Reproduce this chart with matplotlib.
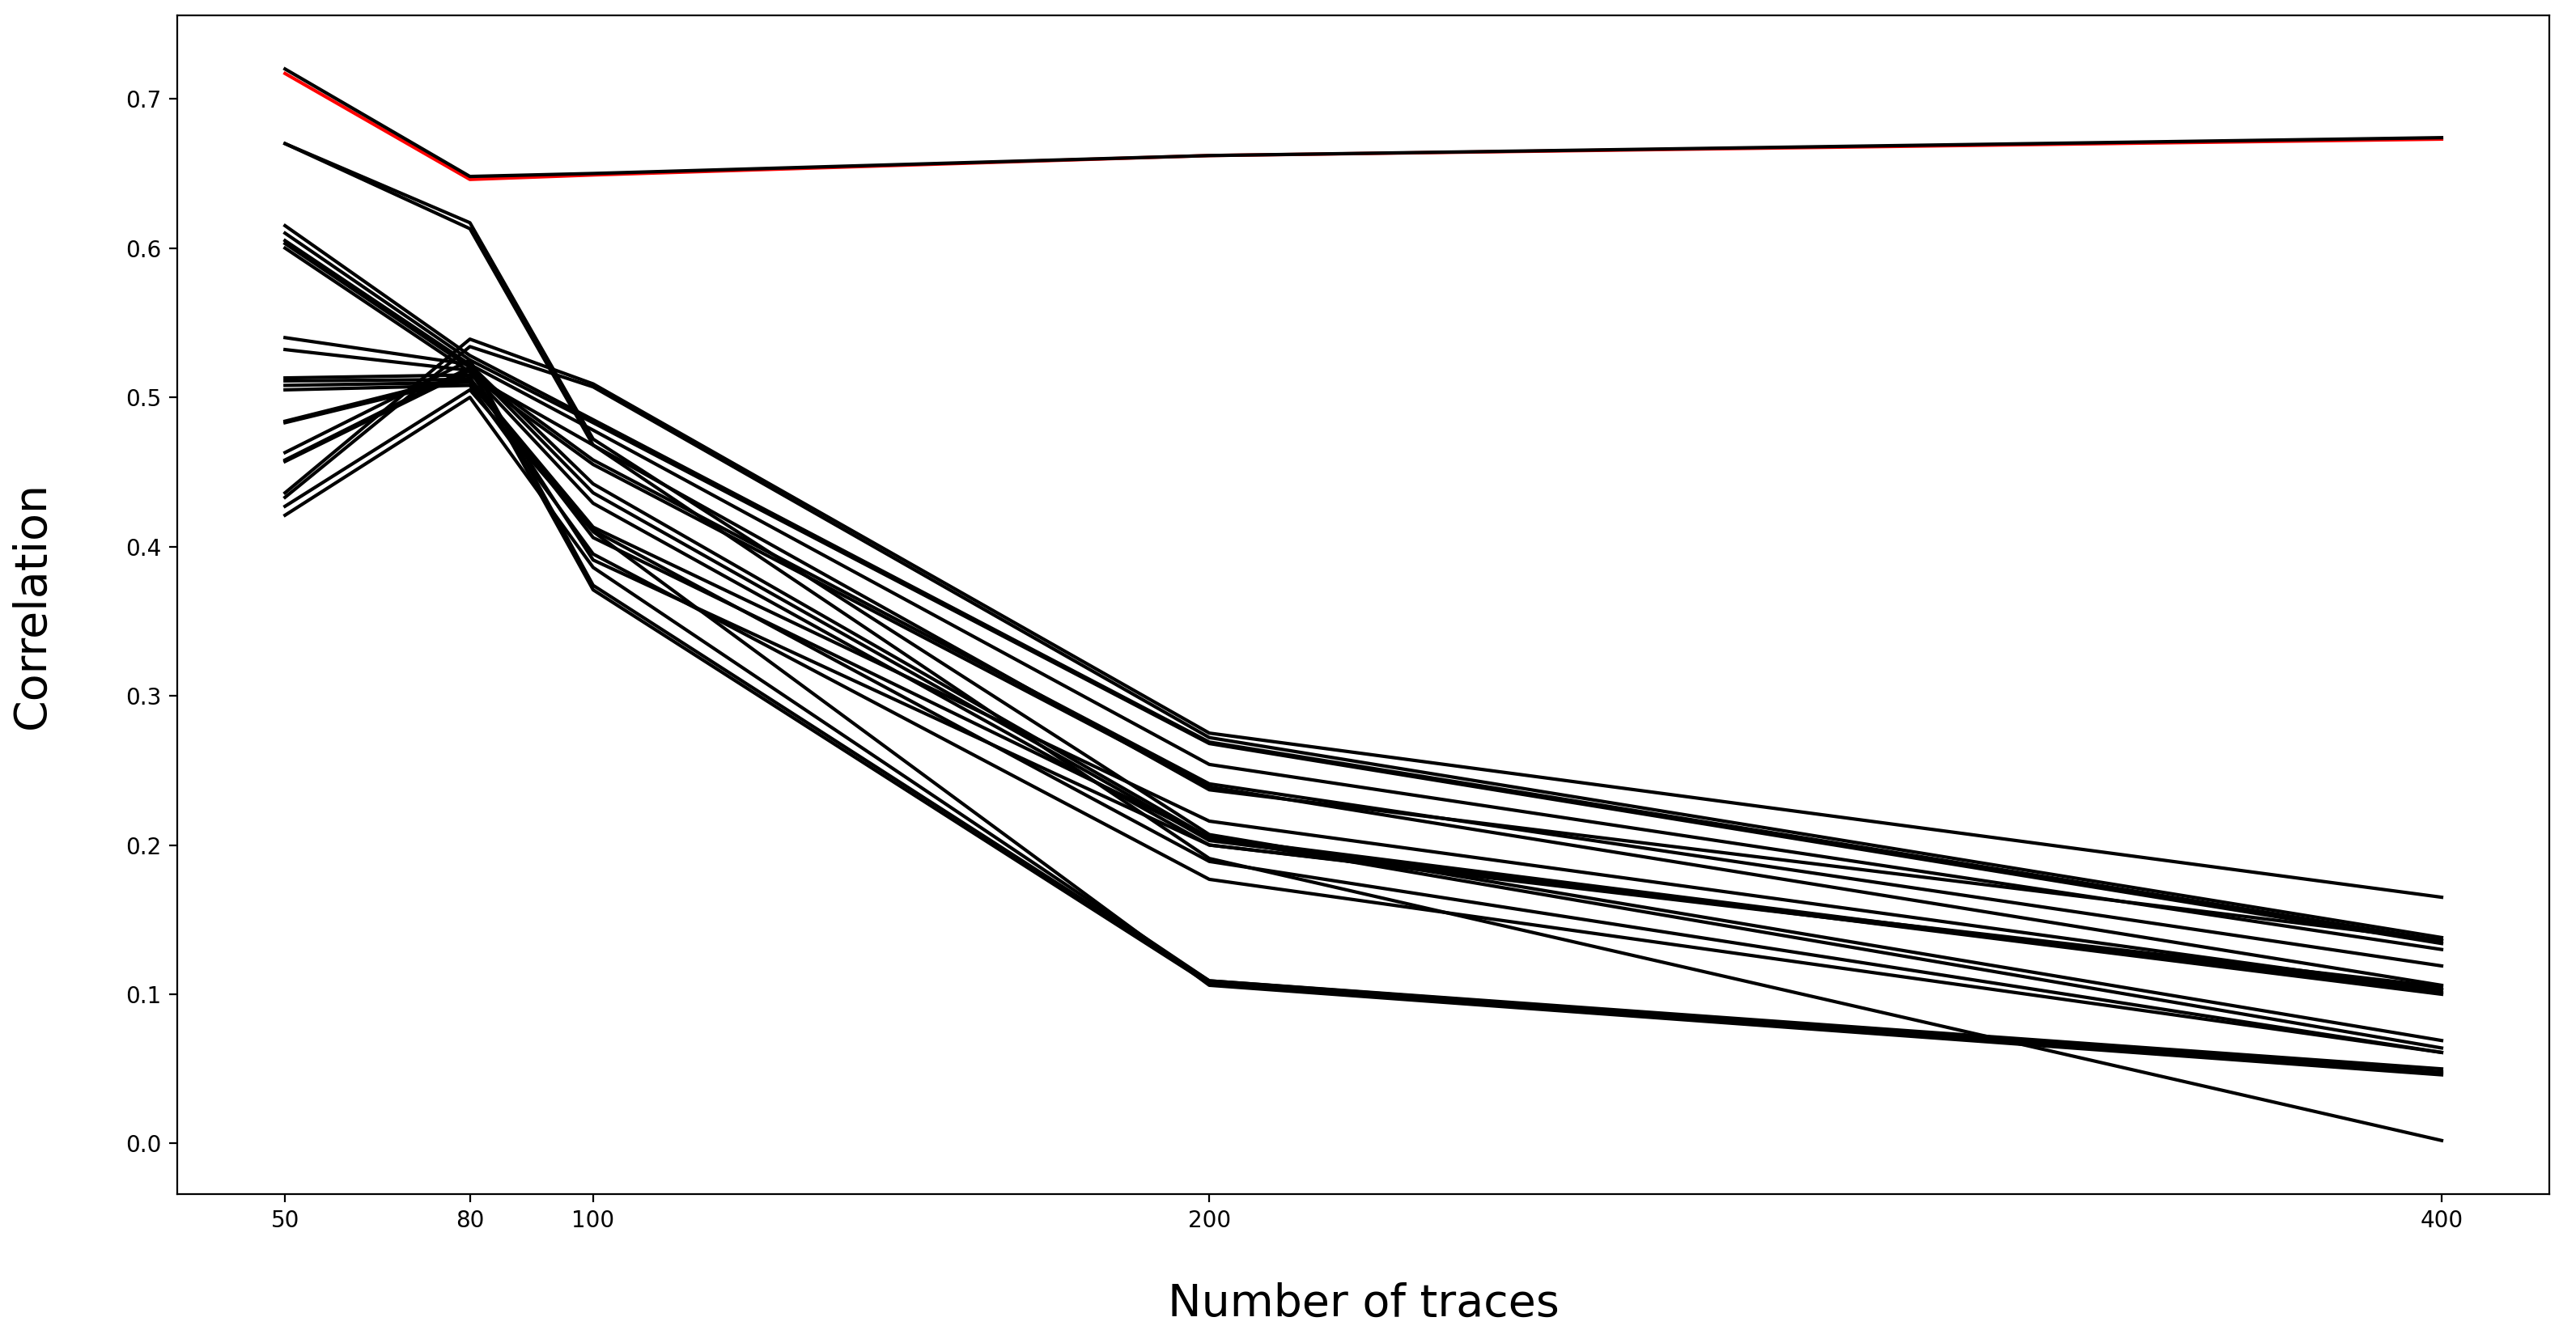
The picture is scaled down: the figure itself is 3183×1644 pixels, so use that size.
import matplotlib
matplotlib.use("Agg")
import matplotlib.pyplot as plt

# Number of traces used for each estimate
traces = [50, 80, 100, 200, 400]

# Reference curve (drawn in red) and the black curve that sits on top of it
reference = [0.717, 0.646, 0.649, 0.662, 0.673]
top_black = [0.720, 0.648, 0.650, 0.662, 0.674]

# Remaining correlation curves, one list per run
runs = [
    [0.436, 0.539, 0.509, 0.275, 0.165],
    [0.433, 0.534, 0.507, 0.272, 0.138],
    [0.670, 0.617, 0.472, 0.207, 0.069],
    [0.670, 0.613, 0.468, 0.191, 0.002],
    [0.615, 0.528, 0.485, 0.269, 0.136],
    [0.610, 0.525, 0.483, 0.268, 0.134],
    [0.605, 0.522, 0.442, 0.205, 0.064],
    [0.603, 0.520, 0.436, 0.203, 0.100],
    [0.600, 0.517, 0.429, 0.200, 0.103],
    [0.540, 0.522, 0.478, 0.254, 0.130],
    [0.532, 0.518, 0.458, 0.241, 0.119],
    [0.513, 0.515, 0.455, 0.239, 0.106],
    [0.511, 0.512, 0.413, 0.216, 0.103],
    [0.508, 0.510, 0.411, 0.189, 0.061],
    [0.505, 0.508, 0.395, 0.177, 0.061],
    [0.484, 0.515, 0.468, 0.237, 0.136],
    [0.483, 0.513, 0.406, 0.205, 0.101],
    [0.463, 0.525, 0.374, 0.109, 0.050],
    [0.458, 0.520, 0.371, 0.107, 0.047],
    [0.457, 0.518, 0.391, 0.200, 0.105],
    [0.427, 0.505, 0.410, 0.106, 0.046],
    [0.421, 0.500, 0.386, 0.109, 0.048],
]

fig = plt.figure(figsize=(15.915, 8.22), dpi=200)
ax = fig.add_axes([0.0688, 0.1022, 0.9209, 0.8862])

ax.plot(traces, reference, color="red", linewidth=1.5)
ax.plot(traces, top_black, color="black", linewidth=1.5)
for run in runs:
    ax.plot(traces, run, color="black", linewidth=1.5)

ax.set_xticks(traces)
ax.set_xlabel("Number of traces", fontsize=20, labelpad=22)
ax.set_ylabel("Correlation", fontsize=20, labelpad=32)

plt.savefig("out.png", dpi=200)
plt.close()
